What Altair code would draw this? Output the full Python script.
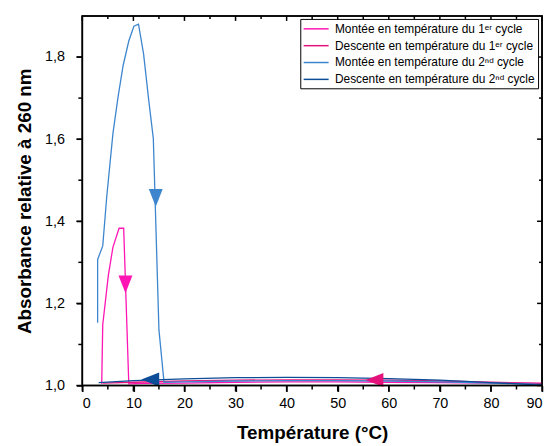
import altair as alt
import pandas as pd

# ---- data ----
labels = [
    "Montée en température du 1ᵉʳ cycle",
    "Descente en température du 1ᵉʳ cycle",
    "Montée en température du 2ⁿᵈ cycle",
    "Descente en température du 2ⁿᵈ cycle",
]
colors = ["#FF14B4", "#E4137C", "#3D86CE", "#0B4D96"]

x_up1 = [3.8, 4.0, 5.1, 6.0, 7.2, 8.1, 9.1, 12, 20, 30, 40, 50, 60, 70, 80, 90]
y_up1 = [1.004, 1.148, 1.269, 1.337, 1.383, 1.383, 1.004, 1.005, 1.006, 1.008, 1.009,
         1.009, 1.008, 1.007, 1.006, 1.005]

x_down1 = [90, 80, 70, 60, 50, 40, 30, 20, 10, 4]
y_down1 = [1.005, 1.008, 1.011, 1.013, 1.014, 1.014, 1.013, 1.011, 1.008, 1.006]

x_up2 = [3.0, 3.0, 4.0, 4.8, 6.0, 7.0, 8.0, 9.1, 10.1, 11.0, 12.0, 13.0, 13.9, 15.0,
         16.0, 20, 30, 40, 50, 60, 70, 80, 90]
y_up2 = [1.153, 1.307, 1.34, 1.462, 1.614, 1.703, 1.78, 1.839, 1.875, 1.88, 1.807, 1.695,
         1.602, 1.136, 1.008, 1.009, 1.011, 1.012, 1.012, 1.011, 1.009, 1.006, 1.003]

x_down2 = [90, 80, 70, 60, 50, 40, 30, 20, 10, 3.2]
y_down2 = [1.001, 1.007, 1.013, 1.017, 1.019, 1.02, 1.019, 1.016, 1.012, 1.007]

# direction arrows
arrow_serie = [labels[0], labels[2], labels[3], labels[1]]
arrow_x = [8.45, 14.38, 13.3, 57.2]
arrow_y = [1.2465, 1.457, 1.0145, 1.0135]
arrow_dir = ["down", "down", "left", "left"]

x_major = [0, 10, 20, 30, 40, 50, 60, 70, 80, 90]
x_minor = [5, 15, 25, 35, 45, 55, 65, 75, 85]
y_major = [1.0, 1.2, 1.4, 1.6, 1.8]
y_minor = [1.1, 1.3, 1.5, 1.7]

# ---- tables ----
rows = []
for lab, xs, ys in zip(labels, [x_up1, x_down1, x_up2, x_down2],
                       [y_up1, y_down1, y_up2, y_down2]):
    for i, (xv, yv) in enumerate(zip(xs, ys)):
        rows.append({"serie": lab, "T": xv, "A": yv, "i": i})
df = pd.DataFrame(rows)

arr = pd.DataFrame({"serie": arrow_serie, "T": arrow_x, "A": arrow_y, "dir": arrow_dir})

W, H = 464, 373
FONT = "Liberation Sans"
xscale = alt.Scale(domain=[0, 90], nice=False, zero=False)
yscale = alt.Scale(domain=[1.0, 1.9], nice=False, zero=False)
cscale = alt.Scale(domain=labels, range=colors)

x_axis = alt.Axis(
    title="Température (°C)", values=x_major, domain=False, grid=False,
    ticks=True, tickSize=6, tickColor="black", tickWidth=1.5,
    labelPadding=5, titlePadding=14,
)
y_axis = alt.Axis(
    title="Absorbance relative à 260 nm", values=y_major, domain=False, grid=False,
    labelExpr="replace(format(datum.value, '.1f'), '.', ',')",
    ticks=True, tickSize=6, tickColor="black", tickWidth=1.5,
    labelPadding=12, titlePadding=10,
)

legend = alt.Legend(
    title=None, orient="none", legendX=220, legendY=3,
    strokeColor="black", fillColor="white", padding=3, cornerRadius=0,
    symbolType="M-2.1,0L2.1,0", symbolSize=144, symbolStrokeWidth=1.5,
    symbolOffset=6, labelFontSize=12, labelOffset=12, rowPadding=4,
    labelLimit=0, labelFont=FONT, labelColor="black",
)

X = alt.X("T:Q", scale=xscale, axis=x_axis)
Y = alt.Y("A:Q", scale=yscale, axis=y_axis)

lines = alt.Chart(df).mark_line(strokeWidth=1.3).encode(
    x=X, y=Y,
    color=alt.Color("serie:N", scale=cscale, legend=legend),
    order=alt.Order("i:Q"),
)

down = alt.Chart(arr).transform_filter("datum.dir == 'down'").mark_point(
    filled=True, opacity=1, size=324, shape="M-0.78,-1L0.78,-1L0,1Z"
).encode(
    x=X, y=Y,
    color=alt.Color("serie:N", scale=cscale, legend=None),
)
left = alt.Chart(arr).transform_filter("datum.dir == 'left'").mark_point(
    filled=True, opacity=1, size=324, shape="M1,-0.78L1,0.78L-1,0Z"
).encode(
    x=X, y=Y,
    color=alt.Color("serie:N", scale=cscale, legend=None),
)


# tick marks on all four sides, positioned by the shared scales
def xticks(vals, y0, y1):
    return alt.Chart(pd.DataFrame({"T": vals})).mark_rule(
        color="black", strokeWidth=1.5
    ).encode(
        x=X, y=alt.value(y0), y2=alt.value(y1),
    )


def yticks(vals, x0, x1):
    return alt.Chart(pd.DataFrame({"A": vals})).mark_rule(
        color="black", strokeWidth=1.5
    ).encode(
        y=Y, x=alt.value(x0), x2=alt.value(x1),
    )


ticks = [
    xticks(x_major, H, H + 6), xticks(x_minor, H, H + 4),
    xticks(x_major, 0, 5), xticks(x_minor, 0, 3),
    yticks(y_major, 0, -6), yticks(y_minor, 0, -4),
    yticks(y_major, W, W - 5), yticks(y_minor, W, W - 3),
]

frame = alt.Chart(pd.DataFrame({"frame": [0]})).mark_rect(
    filled=False, stroke="black", strokeWidth=1.6
).encode(
    x=alt.value(0), x2=alt.value(W), y=alt.value(0), y2=alt.value(H),
)

chart = alt.layer(lines, down, left, frame, *ticks).properties(
    width=W, height=H,
    padding={"left": 7, "top": 5, "right": 0, "bottom": 0},
).configure_view(stroke="black", strokeWidth=1.6).configure_axis(
    labelColor="black", labelFont=FONT, tickColor="black",
    labelFontSize=14.5, titleFont=FONT, titleFontSize=19, titleFontWeight="bold",
    titleColor="black",
)

chart.save("out.html", embed_options={"renderer": "svg", "actions": False})
